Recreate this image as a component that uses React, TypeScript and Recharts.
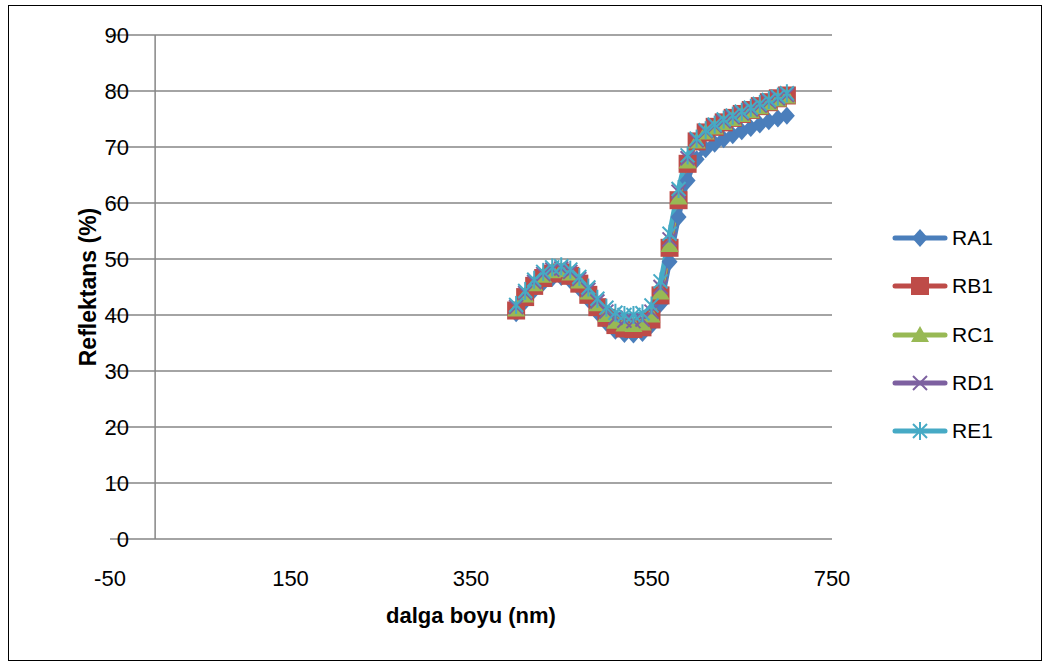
import React from "react";
import { LineChart, Line, XAxis, YAxis, CartesianGrid, ReferenceLine } from "recharts";

// dalga boyu (nm)
const wavelengths = [
  400, 410, 420, 430, 440, 450, 460, 470, 480, 490, 500, 510, 520, 530, 540, 550,
  560, 570, 580, 590, 600, 610, 620, 630, 640, 650, 660, 670, 680, 690, 700,
];

// reflektans (%)
const RA1 = [
  40.3, 42.5, 44.5, 45.8, 46.6, 46.8, 46.2, 44.8, 42.8, 40.5, 38.6, 37.2, 36.6, 36.5, 36.8, 38.2,
  42.0, 49.5, 57.5, 64.0, 67.8, 69.6, 70.6, 71.4, 72.1, 72.8, 73.4, 74.0, 74.6, 75.1, 75.6,
];
const RB1 = [
  40.8, 43.2, 45.2, 46.6, 47.4, 47.6, 47.0, 45.6, 43.6, 41.4, 39.5, 38.2, 37.6, 37.5, 37.8, 39.2,
  43.5, 52.0, 60.5, 67.0, 71.0, 72.6, 73.6, 74.4, 75.2, 75.9, 76.6, 77.3, 78.0, 78.7, 79.2,
];
const RC1 = [
  41.0, 43.5, 45.5, 47.0, 47.8, 48.0, 47.4, 46.0, 44.0, 41.9, 40.0, 38.8, 38.3, 38.2, 38.5, 39.9,
  44.0, 52.5, 61.0, 67.4, 71.0, 72.6, 73.5, 74.3, 75.0, 75.7, 76.4, 77.1, 77.8, 78.5, 79.0,
];
const RD1 = [
  41.4, 43.9, 45.9, 47.3, 48.1, 48.3, 47.7, 46.4, 44.5, 42.4, 40.6, 39.5, 39.0, 38.9, 39.2, 40.6,
  45.0, 53.5, 62.0, 68.0, 71.2, 72.8, 73.8, 74.6, 75.3, 76.0, 76.7, 77.4, 78.1, 78.7, 79.3,
];
const RE1 = [
  41.8, 44.3, 46.3, 47.7, 48.5, 48.7, 48.1, 46.8, 44.9, 42.9, 41.3, 40.4, 40.0, 40.0, 40.3, 41.7,
  46.0, 54.5, 62.5, 68.5, 71.5, 73.0, 74.0, 74.9, 75.6, 76.3, 77.0, 77.7, 78.4, 79.0, 79.6,
];

const xTicks = [-50, 150, 350, 550, 750];
const yTicks = [0, 10, 20, 30, 40, 50, 60, 70, 80, 90];

const series = [
  { name: "RA1", color: "#4A7EBB", marker: "diamond" },
  { name: "RB1", color: "#BE4B48", marker: "square" },
  { name: "RC1", color: "#98B954", marker: "triangle" },
  { name: "RD1", color: "#7D60A0", marker: "x" },
  { name: "RE1", color: "#46AAC5", marker: "star" },
];

const data = wavelengths.map((nm, i) => ({
  nm,
  RA1: RA1[i],
  RB1: RB1[i],
  RC1: RC1[i],
  RD1: RD1[i],
  RE1: RE1[i],
}));

const font = "'Liberation Sans', Arial, sans-serif";
const grid = "#868686";

function Marker({ kind, cx, cy, color }: { kind: string; cx: number; cy: number; color: string }) {
  if (kind === "diamond") {
    return <polygon points={`${cx},${cy - 9} ${cx + 8},${cy} ${cx},${cy + 9} ${cx - 8},${cy}`} fill={color} />;
  }
  if (kind === "square") {
    return <rect x={cx - 9} y={cy - 9} width={18} height={18} fill={color} />;
  }
  if (kind === "triangle") {
    return <polygon points={`${cx},${cy - 9} ${cx + 9},${cy + 7} ${cx - 9},${cy + 7}`} fill={color} />;
  }
  const x = (
    <>
      <line x1={cx - 7} y1={cy - 7} x2={cx + 7} y2={cy + 7} stroke={color} strokeWidth={2} />
      <line x1={cx - 7} y1={cy + 7} x2={cx + 7} y2={cy - 7} stroke={color} strokeWidth={2} />
    </>
  );
  if (kind === "x") return <g>{x}</g>;
  return (
    <g>
      {x}
      <line x1={cx} y1={cy - 9} x2={cx} y2={cy + 9} stroke={color} strokeWidth={2} />
    </g>
  );
}

export default function App() {
  return (
    <div style={{ position: "absolute", left: 0, top: 0, width: 1049, height: 664, fontFamily: font }}>
      <div
        style={{
          position: "absolute",
          left: 8,
          top: 5,
          width: 1034,
          height: 656,
          border: "1.5px solid #000",
          boxSizing: "border-box",
        }}
      />
      <LineChart
        width={1049}
        height={664}
        data={data}
        margin={{ top: 35, right: 217, bottom: 85, left: 70 }}
        style={{ position: "absolute", left: 0, top: 0 }}
      >
        <CartesianGrid vertical={false} stroke={grid} strokeWidth={1.5} />
        <XAxis
          type="number"
          dataKey="nm"
          domain={[-50, 750]}
          ticks={xTicks}
          height={40}
          axisLine={false}
          tickLine={false}
          interval={0}
          tick={(p: any) => (
            <text x={p.x} y={586} textAnchor="middle" fontSize={22} fontFamily={font} fill="#000">
              {p.payload.value}
            </text>
          )}
        />
        <YAxis
          type="number"
          domain={[0, 90]}
          ticks={yTicks}
          width={40}
          axisLine={false}
          tickLine={false}
          interval={0}
          tick={(p: any) => (
            <text x={129} y={p.y + 7.5} textAnchor="end" fontSize={22} fontFamily={font} fill="#000">
              {p.payload.value}
            </text>
          )}
        />
        <ReferenceLine x={0} stroke={grid} strokeWidth={1.5} />
        {series.map((s) => (
          <Line
            key={s.name}
            type="monotone"
            dataKey={s.name}
            stroke={s.color}
            strokeWidth={5}
            isAnimationActive={false}
            dot={(p: any) => (
              <Marker key={`${s.name}-${p.index}`} kind={s.marker} cx={p.cx} cy={p.cy} color={s.color} />
            )}
            activeDot={false}
          />
        ))}
      </LineChart>

      <div
        style={{
          position: "absolute",
          left: 88,
          top: 287,
          transform: "translate(-50%, -50%) rotate(-90deg)",
          fontWeight: "bold",
          fontSize: 23,
          whiteSpace: "nowrap",
        }}
      >
        Reflektans (%)
      </div>
      <div
        style={{
          position: "absolute",
          left: 471,
          top: 616,
          transform: "translate(-50%, -50%)",
          fontWeight: "bold",
          fontSize: 22,
          whiteSpace: "nowrap",
        }}
      >
        dalga boyu (nm)
      </div>

      {series.map((s, i) => (
        <div
          key={s.name}
          style={{ position: "absolute", left: 890, top: 238 + i * 48.3 - 14, height: 28, display: "flex", alignItems: "center" }}
        >
          <svg width={60} height={28}>
            <line x1={5} y1={14} x2={55} y2={14} stroke={s.color} strokeWidth={5} strokeLinecap="round" />
            <Marker kind={s.marker} cx={30} cy={14} color={s.color} />
          </svg>
          <span style={{ fontSize: 21, marginLeft: 2 }}>{s.name}</span>
        </div>
      ))}
    </div>
  );
}
